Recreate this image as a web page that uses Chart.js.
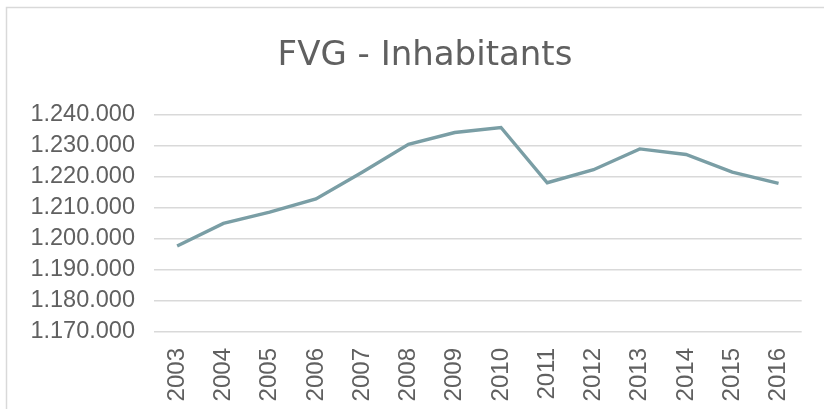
<!DOCTYPE html>
<html>
<head>
<meta charset="utf-8">
<script src="https://cdn.jsdelivr.net/npm/chart.js@4.4.1/dist/chart.umd.min.js"></script>
<style>
  html, body { margin: 0; padding: 0; background: #ffffff; }
  #wrap { position: relative; width: 824px; height: 409px; }
</style>
</head>
<body>
<div id="wrap"><canvas id="fvgChart" width="824" height="409"></canvas></div>
<script>
// --- chart data ---
const chartTitle = "FVG - Inhabitants";
const years = ["2003", "2004", "2005", "2006", "2007", "2008", "2009", "2010", "2011", "2012", "2013", "2014", "2015", "2016"];
const inhabitants = [1197700, 1205000, 1208600, 1212900, 1221500, 1230500, 1234300, 1235900, 1218100, 1222300, 1229000, 1227200, 1221500, 1217900];
const yMin = 1170000;
const yMax = 1240000;
const yStep = 10000;

const textColor = "#606060";
const gridColor = "#d9d9d9";
const lineColor = "#7a9ea5";
const titleFont = "'DejaVu Sans', sans-serif";
const tickFont = "'Liberation Sans', Arial, sans-serif";

// 1.240.000 style (dots as thousands separator)
function formatDots(v) {
  return String(Math.round(v)).replace(/\B(?=(\d{3})+(?!\d))/g, ".");
}

// light outer frame like the Excel chart box
const framePlugin = {
  id: "frame",
  beforeDraw(chart) {
    const ctx = chart.ctx;
    ctx.save();
    ctx.fillStyle = "#ffffff";
    ctx.fillRect(0, 0, chart.width, chart.height);
    ctx.strokeStyle = gridColor;
    ctx.lineWidth = 1.5;
    ctx.strokeRect(6.5, 7.5, chart.width + 20, chart.height + 20);
    ctx.restore();
  },
  // title in the reference sits a bit right of the canvas centre
  afterLayout(chart) {
    if (chart.titleBlock) chart.titleBlock.left = 44;
  },
};

const ctx = document.getElementById("fvgChart").getContext("2d");
const fvgChart = new Chart(ctx, {
  type: "line",
  data: {
    labels: years,
    datasets: [
      {
        label: "Inhabitants",
        data: inhabitants,
        borderColor: lineColor,
        backgroundColor: lineColor,
        borderWidth: 3.4,
        pointRadius: 0,
        tension: 0,
        fill: false,
      },
    ],
  },
  options: {
    responsive: false,
    animation: false,
    layout: { padding: { left: 0, right: 18, top: 0, bottom: 0 } },
    plugins: {
      legend: { display: false },
      tooltip: { enabled: false },
      title: {
        display: true,
        text: chartTitle,
        color: textColor,
        font: { family: titleFont, size: 34, weight: "normal", lineHeight: 1.2 },
        padding: { top: 36, bottom: 38 },
      },
    },
    scales: {
      x: {
        offset: true,
        grid: { display: false, drawTicks: false },
        border: { display: false },
        ticks: {
          color: textColor,
          font: { family: tickFont, size: 24 },
          minRotation: 90,
          maxRotation: 90,
          padding: 16,
          autoSkip: false,
        },
        afterFit(scale) {
          scale.height = 77;
        },
      },
      y: {
        min: yMin,
        max: yMax,
        grid: { color: gridColor, lineWidth: 1.5, drawTicks: false },
        border: { display: false },
        ticks: {
          stepSize: yStep,
          autoSkip: false,
          color: textColor,
          font: { family: tickFont, size: 23.5, lineHeight: 1 },
          padding: 19,
          callback: (v) => formatDots(v),
        },
        afterFit(scale) {
          scale.width = 154;
        },
      },
    },
  },
  plugins: [framePlugin],
});
</script>
</body>
</html>
